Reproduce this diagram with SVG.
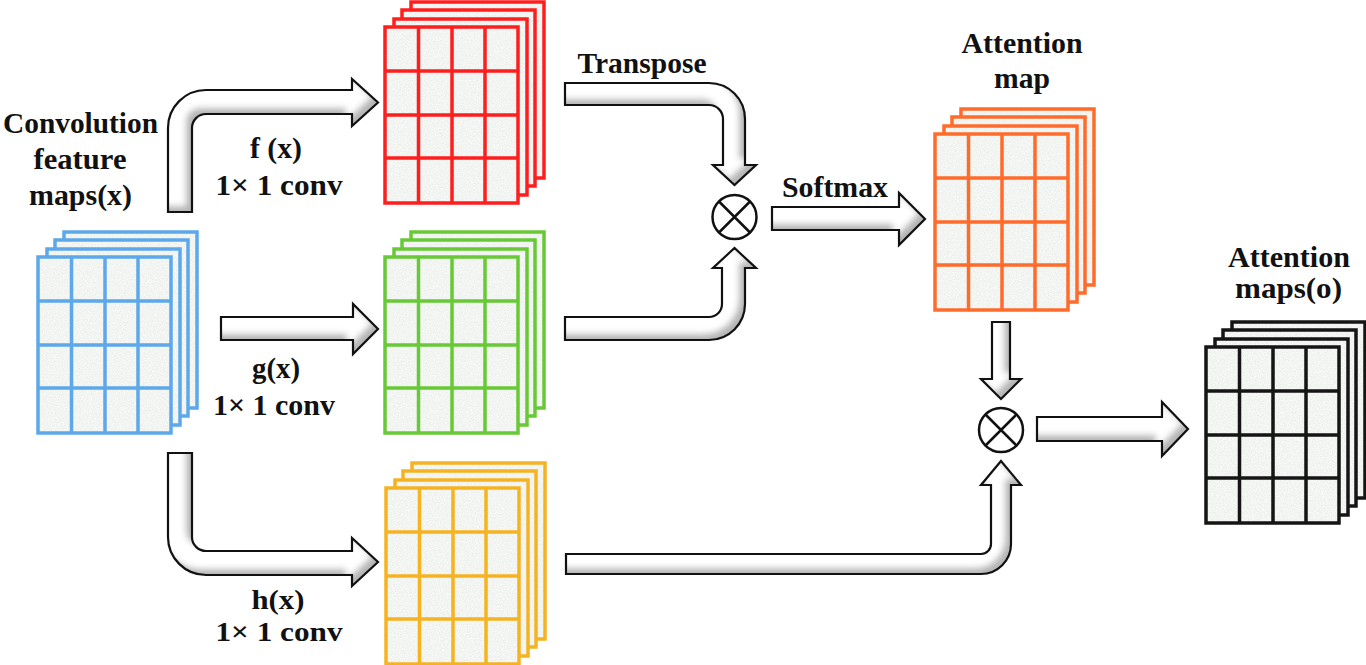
<svg xmlns="http://www.w3.org/2000/svg" xmlns:xlink="http://www.w3.org/1999/xlink" width="1366" height="665" viewBox="0 0 1366 665">
<style>
  .sheet { fill: url(#texp); stroke-width: 3.5; }
  .grid { fill: none; stroke-width: 3.5; }
  .af { fill: #ffffff; stroke: none; filter: url(#bev); }
  .al { fill: none; stroke: #111; stroke-width: 2.2; stroke-linejoin: miter; }
  .lbl { font-family: "Liberation Serif", "Times New Roman", serif; font-weight: bold; font-size: 29px; fill: #111; text-anchor: middle; }
  .sm { font-size: 27px; }
  .op circle { fill: #fff; stroke: #111; stroke-width: 2.5; }
  .op path { stroke: #111; stroke-width: 2.5; fill: none; }
</style>
<defs>
  <filter id="tex" x="0" y="0" width="100%" height="100%">
    <feTurbulence type="fractalNoise" baseFrequency="0.75" numOctaves="2" seed="7" result="n"/>
    <feColorMatrix in="n" type="matrix" values="0.22 0 0 0 0.78  0.22 0 0 0 0.80  0.22 0 0 0 0.78  0 0 0 0 1"/>
  </filter>
  <pattern id="texp" patternUnits="userSpaceOnUse" width="200" height="200">
    <rect width="200" height="200" fill="#e6e9e6" filter="url(#tex)"/>
  </pattern>
  <filter id="bev" x="-5%" y="-5%" width="110%" height="110%">
    <feGaussianBlur in="SourceAlpha" stdDeviation="3"/>
    <feOffset dx="-6" dy="-6" result="o"/>
    <feComposite in="SourceAlpha" in2="o" operator="out" result="edge"/>
    <feFlood flood-color="#b4b4b4"/>
    <feComposite in2="edge" operator="in" result="shade"/>
    <feMerge><feMergeNode in="SourceGraphic"/><feMergeNode in="shade"/></feMerge>
  </filter>
  <g id="stack">
    <rect class="sheet" x="26" y="-25" width="133" height="176"/>
    <rect class="sheet" x="17" y="-17" width="133" height="176"/>
    <rect class="sheet" x="9" y="-8" width="133" height="176"/>
    <rect class="sheet" x="0" y="0" width="133" height="176"/>
    <path class="grid" d="M33.5,0V176M67,0V176M100,0V176M0,44H133M0,88H133M0,131H133"/>
  </g>
  <path id="pF" d="M168,212 L168,128 A38,38 0 0 1 206,90 L352,90 L352,79 L378,102.5 L352,126 L352,114 L206,114 A14,14 0 0 0 192,128 L192,212 Z"/>
  <path id="pG" d="M221,317 L353,317 L353,304 L378,329 L353,354 L353,340 L221,340 Z"/>
  <path id="pH" d="M168,453 L192,453 L192,537 A14,14 0 0 0 206,551 L352,551 L352,538 L378,562 L352,586 L352,575 L206,575 A38,38 0 0 1 168,537 Z"/>
  <path id="pT" d="M565,83 L709,83 A36,36 0 0 1 745,119 L745,165 L756,165 L734.5,185 L713,165 L723,165 L723,119 A14,14 0 0 0 709,105 L565,105 Z"/>
  <path id="pGU" d="M565,317 L709,317 A13,13 0 0 0 722,304 L722,268 L713,268 L734.5,248 L756,268 L745,268 L745,304 A36,36 0 0 1 709,340 L565,340 Z"/>
  <path id="pS" d="M772,207 L899,207 L899,193 L925,219 L899,245 L899,230 L772,230 Z"/>
  <path id="pD" d="M992,322 L1010,322 L1010,379 L1021,379 L1001,399 L981,379 L992,379 Z"/>
  <path id="pL" d="M566,554 L981,554 A10,10 0 0 0 991,544 L991,485 L981,485 L1001,461 L1021,485 L1011,485 L1011,544 A30,30 0 0 1 981,574 L566,574 Z"/>
  <path id="pO" d="M1037,417 L1162,417 L1162,402 L1188,429 L1162,456 L1162,441 L1037,441 Z"/>
</defs>

<rect width="1366" height="665" fill="#ffffff"/>

<g id="connectors">
  <g id="arrow-f"><use xlink:href="#pF" class="af"/><use xlink:href="#pF" class="al"/></g>
  <g id="arrow-g"><use xlink:href="#pG" class="af"/><use xlink:href="#pG" class="al"/></g>
  <g id="arrow-h"><use xlink:href="#pH" class="af"/><use xlink:href="#pH" class="al"/></g>
  <g id="arrow-transpose"><use xlink:href="#pT" class="af"/><use xlink:href="#pT" class="al"/></g>
  <g id="arrow-g-up"><use xlink:href="#pGU" class="af"/><use xlink:href="#pGU" class="al"/></g>
  <g id="arrow-softmax"><use xlink:href="#pS" class="af"/><use xlink:href="#pS" class="al"/></g>
  <g id="arrow-down"><use xlink:href="#pD" class="af"/><use xlink:href="#pD" class="al"/></g>
  <g id="arrow-long"><use xlink:href="#pL" class="af"/><use xlink:href="#pL" class="al"/></g>
  <g id="arrow-out"><use xlink:href="#pO" class="af"/><use xlink:href="#pO" class="al"/></g>
</g>

<g id="node-input">
  <use xlink:href="#stack" transform="translate(38,257)" style="stroke:#5ca8ea"/>
  <text class="lbl" x="80.5" y="133" textLength="155" lengthAdjust="spacingAndGlyphs">Convolution</text>
  <text class="lbl" x="80" y="169" textLength="93" lengthAdjust="spacingAndGlyphs">feature</text>
  <text class="lbl" x="80.5" y="205" textLength="103" lengthAdjust="spacingAndGlyphs">maps(x)</text>
</g>

<g id="node-f">
  <use xlink:href="#stack" transform="translate(385,27)" style="stroke:#ff1e1e"/>
  <text class="lbl" x="276" y="158" textLength="52" lengthAdjust="spacingAndGlyphs">f (x)</text>
  <text class="lbl" x="279" y="195" textLength="127" lengthAdjust="spacingAndGlyphs">1× 1 conv</text>
</g>

<g id="node-g">
  <use xlink:href="#stack" transform="translate(385,257)" style="stroke:#68c936"/>
  <text class="lbl" x="276" y="378" textLength="48" lengthAdjust="spacingAndGlyphs">g(x)</text>
  <text class="lbl" x="274" y="415" textLength="122" lengthAdjust="spacingAndGlyphs">1× 1 conv</text>
</g>

<g id="node-h">
  <use xlink:href="#stack" transform="translate(386,488)" style="stroke:#f6b321"/>
  <text class="lbl sm" x="278" y="609" textLength="53" lengthAdjust="spacingAndGlyphs">h(x)</text>
  <text class="lbl sm" x="279" y="641" textLength="127" lengthAdjust="spacingAndGlyphs">1× 1 conv</text>
</g>

<g id="label-transpose">
  <text class="lbl" x="642" y="73" textLength="129" lengthAdjust="spacingAndGlyphs">Transpose</text>
</g>

<g id="op-mul-1" class="op">
  <circle cx="734.5" cy="217" r="22"/>
  <path d="M719,201.5L750,232.5M750,201.5L719,232.5"/>
</g>

<g id="label-softmax">
  <text class="lbl" x="835" y="197" textLength="106" lengthAdjust="spacingAndGlyphs">Softmax</text>
</g>

<g id="node-attention-map">
  <use xlink:href="#stack" transform="translate(935,134)" style="stroke:#ff6b2b"/>
  <text class="lbl" x="1022" y="53" textLength="121" lengthAdjust="spacingAndGlyphs">Attention</text>
  <text class="lbl" x="1022" y="88" textLength="56" lengthAdjust="spacingAndGlyphs">map</text>
</g>

<g id="op-mul-2" class="op">
  <circle cx="1001" cy="430" r="22"/>
  <path d="M985.5,414.5L1016.5,445.5M1016.5,414.5L985.5,445.5"/>
</g>

<g id="node-output">
  <use xlink:href="#stack" transform="translate(1206,347)" style="stroke:#151515"/>
  <text class="lbl" x="1289" y="267" textLength="122" lengthAdjust="spacingAndGlyphs">Attention</text>
  <text class="lbl" x="1288.5" y="298" textLength="107" lengthAdjust="spacingAndGlyphs">maps(o)</text>
</g>
</svg>
